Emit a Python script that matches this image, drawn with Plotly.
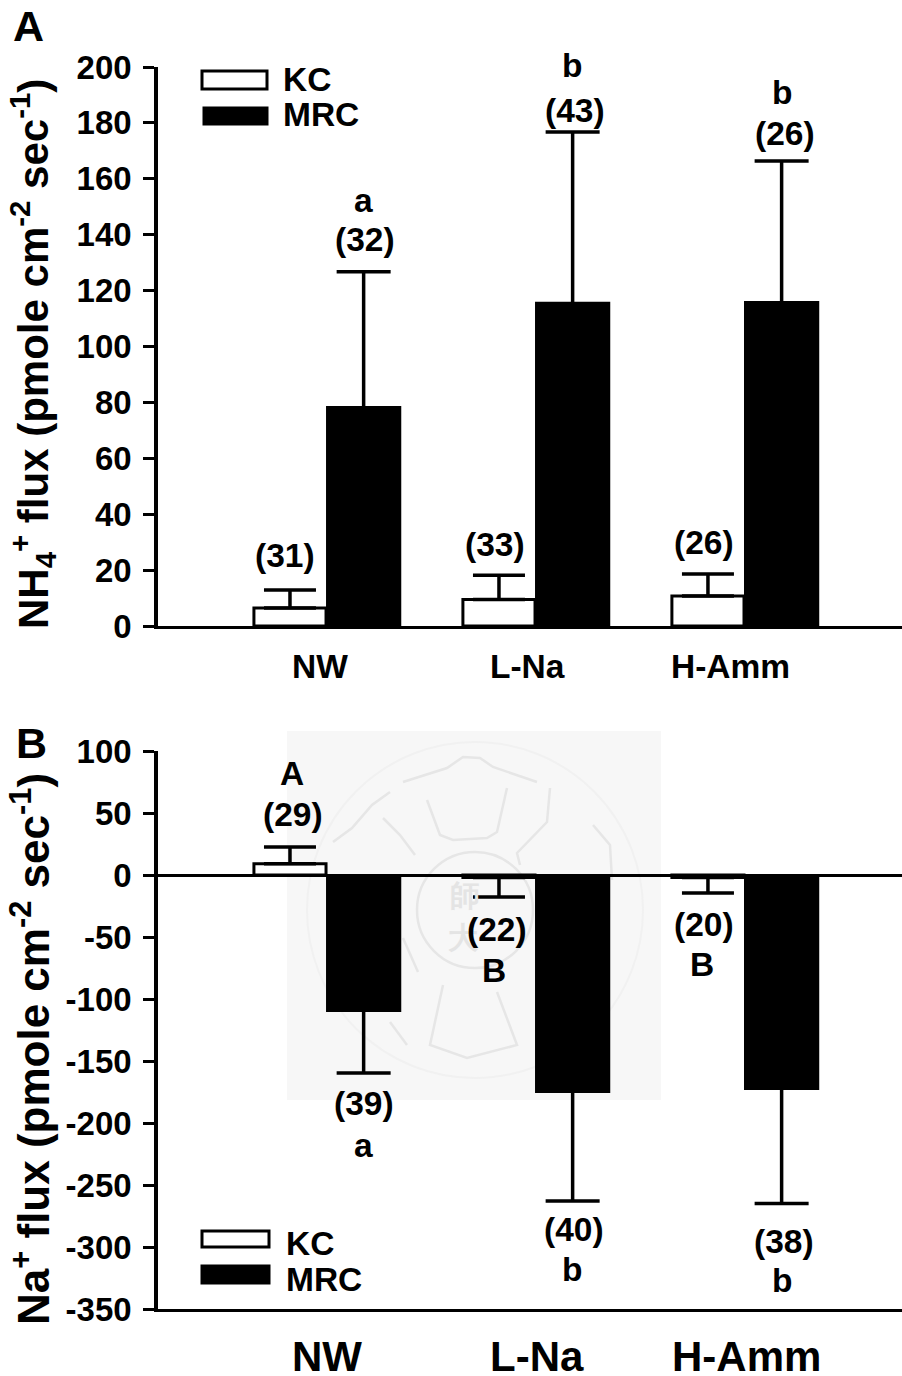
import plotly.graph_objects as go

W, H = 902, 1376
FONT = "Liberation Sans"

# ---- data
groups = ["NW", "L-Na", "H-Amm"]
series = ["KC", "MRC"]
a_kc = [6.4, 9.5, 10.7]
a_mrc = [78.7, 116.0, 116.3]
a_kc_err = [6.5, 8.7, 7.9]
a_mrc_err = [48.0, 60.7, 50.1]
b_kc = [9.0, -2.0, -2.0]
b_mrc = [-110.5, -175.8, -173.4]
b_kc_err = [13.6, 15.7, 12.5]
b_mrc_err = [49.2, 87.2, 91.6]
a_ticks = list(range(0, 201, 20))
b_ticks = list(range(-350, 101, 50))

def px(x): return x / W
def py(y): return 1 - y / H

fig = go.Figure()

def add_panel(kc, mrc, kc_err, mrc_err, xa, ya):
    up = [e if v >= 0 else 0 for v, e in zip(kc, kc_err)]
    down = [e if v < 0 else 0 for v, e in zip(kc, kc_err)]
    fig.add_trace(go.Bar(
        x=groups, y=kc, name="KC", showlegend=False, xaxis=xa, yaxis=ya,
        offset=-0.345, width=0.345,
        marker=dict(color="white", line=dict(color="black", width=3)),
        error_y=dict(type="data", symmetric=False, array=up, arrayminus=down,
                     color="black", thickness=3.5, width=26),
    ))
    fig.add_trace(go.Bar(
        x=groups, y=mrc, name="MRC", showlegend=False, xaxis=xa, yaxis=ya,
        offset=0, width=0.36,
        marker=dict(color="black", line=dict(color="black", width=0)),
        error_y=dict(type="data", symmetric=True, array=mrc_err,
                     color="black", thickness=3.5, width=27),
    ))

add_panel(a_kc, a_mrc, a_kc_err, a_mrc_err, "x", "y")
add_panel(b_kc, b_mrc, b_kc_err, b_mrc_err, "x2", "y2")

dom_x = [px(158), 1]
xcommon = dict(type="category", categoryorder="array", categoryarray=groups,
               range=[-0.804, 2.756], domain=dom_x, showgrid=False, zeroline=False,
               showticklabels=False, ticks="", showline=True, linecolor="black", linewidth=3)
ycommon = dict(showgrid=False, showline=True, linecolor="black", linewidth=3.5,
               ticks="outside", ticklen=11, tickwidth=3, tickcolor="black",
               ticklabelstandoff=5,
               tickfont=dict(family=FONT, size=33, color="black", weight=700))

shapes, annos = [], []

def label(x, y, text, size=33.5, anchor="center", angle=0, color="black"):
    annos.append(dict(x=px(x), y=py(y), xref="paper", yref="paper", text=f"<b>{text}</b>",
                      showarrow=False, xanchor=anchor, yanchor="middle", textangle=angle,
                      font=dict(family=FONT, size=size, color=color)))

def key(x0, y0, x1, y1, fill):
    shapes.append(dict(type="rect", xref="paper", yref="paper", x0=px(x0), x1=px(x1),
                       y0=py(y1), y1=py(y0), fillcolor=fill, line=dict(color="black", width=3)))

def stroke(points, closed=False):
    d = "M " + " L ".join(f"{px(x):.5f},{py(y):.5f}" for x, y in points) + (" Z" if closed else "")
    shapes.append(dict(type="path", path=d, xref="paper", yref="paper", layer="below",
                       line=dict(color="#e6e6e6", width=2.5)))

# watermark
shapes.append(dict(type="rect", xref="paper", yref="paper", layer="below", x0=px(287), x1=px(661),
                   y0=py(1100), y1=py(731), fillcolor="#f7f7f7", line=dict(width=0)))
shapes.append(dict(type="circle", xref="paper", yref="paper", layer="below", x0=px(307), x1=px(643),
                   y0=py(1078), y1=py(742), line=dict(color="#f1f1f1", width=2)))
shapes.append(dict(type="circle", xref="paper", yref="paper", layer="below", x0=px(417), x1=px(533),
                   y0=py(968), y1=py(852), line=dict(color="#e6e6e6", width=2.5)))
stroke([(333, 842), (352, 828), (372, 805), (390, 792)])
stroke([(403, 782), (447, 768), (463, 757), (480, 758), (493, 767), (537, 782)])
stroke([(427, 800), (440, 835), (453, 840), (487, 838), (497, 832), (507, 788)])
stroke([(550, 788), (547, 822), (517, 853), (520, 865)])
stroke([(383, 818), (400, 835), (415, 855)])
stroke([(443, 985), (430, 1045), (467, 1058), (517, 1045), (497, 992)])
stroke([(407, 1045), (390, 1022)])
stroke([(593, 825), (610, 845), (612, 880)])
stroke([(418, 972), (403, 938)])
label(465, 895, "師", 30, color="#e4e4e4")
label(463, 937, "大", 30, color="#e4e4e4")

for x, y, t in [(285, 555.5, "(31)"), (495, 544.5, "(33)"), (704, 542.5, "(26)"),
                (363, 200, "a"), (365, 239.5, "(32)"), (572, 66, "b"), (575, 110.5, "(43)"),
                (782, 92, "b"), (785, 133.5, "(26)"),
                (292, 773, "A"), (293, 814.5, "(29)"), (497, 929.5, "(22)"), (494, 970, "B"),
                (704, 924.5, "(20)"), (702, 964, "B"), (364, 1103.5, "(39)"), (363, 1145, "a"),
                (574, 1229.5, "(40)"), (572, 1269, "b"), (784, 1241.5, "(38)"), (782, 1280, "b")]:
    label(x, y, t)

for (x, name) in zip((320, 527, 730), groups):
    label(x, 667, name)
for (x, name) in zip((327, 537, 746), groups):
    label(x, 1356, name, 42)

label(28, 26, "A", 43)
label(31, 743, "B", 43)
label(32, 354, "NH<sub>4</sub><sup>+</sup> flux (pmole cm<sup>-2</sup> sec<sup>-1</sup>)", 42, angle=-90)
label(30, 1049, "Na<sup>+</sup> flux (pmole cm<sup>-2</sup> sec<sup>-1</sup>)", 44, angle=-90)

# legend keys
key(202, 71, 267, 89, "white")
key(204, 108, 267, 124, "black")
label(281, 80, series[0], anchor="left")
label(281, 114, series[1], anchor="left")
key(202, 1231, 269, 1247, "white")
key(202, 1266, 269, 1283, "black")
label(284, 1243, series[0], anchor="left")
label(284, 1279, series[1], anchor="left")

fig.update_layout(
    width=W, height=H, margin=dict(l=0, r=0, t=0, b=0, pad=0, autoexpand=False),
    paper_bgcolor="rgba(0,0,0,0)", plot_bgcolor="rgba(0,0,0,0)",
    barmode="overlay", showlegend=False,
    xaxis=dict(**xcommon, anchor="y"),
    xaxis2=dict(**xcommon, anchor="y2"),
    yaxis=dict(**ycommon, range=[0, 200], tickvals=a_ticks, ticktext=[str(t) for t in a_ticks],
               zeroline=False, anchor="x", domain=[py(626), py(67)]),
    yaxis2=dict(**ycommon, range=[-350, 100], tickvals=b_ticks, ticktext=[str(t) for t in b_ticks],
                zeroline=True, zerolinewidth=3, zerolinecolor="black", anchor="x2",
                domain=[py(1309), py(751)]),
    shapes=shapes, annotations=annos,
)
fig.write_html("out.html", config={"displayModeBar": False},
               post_script="document.body.style.margin='0';")
